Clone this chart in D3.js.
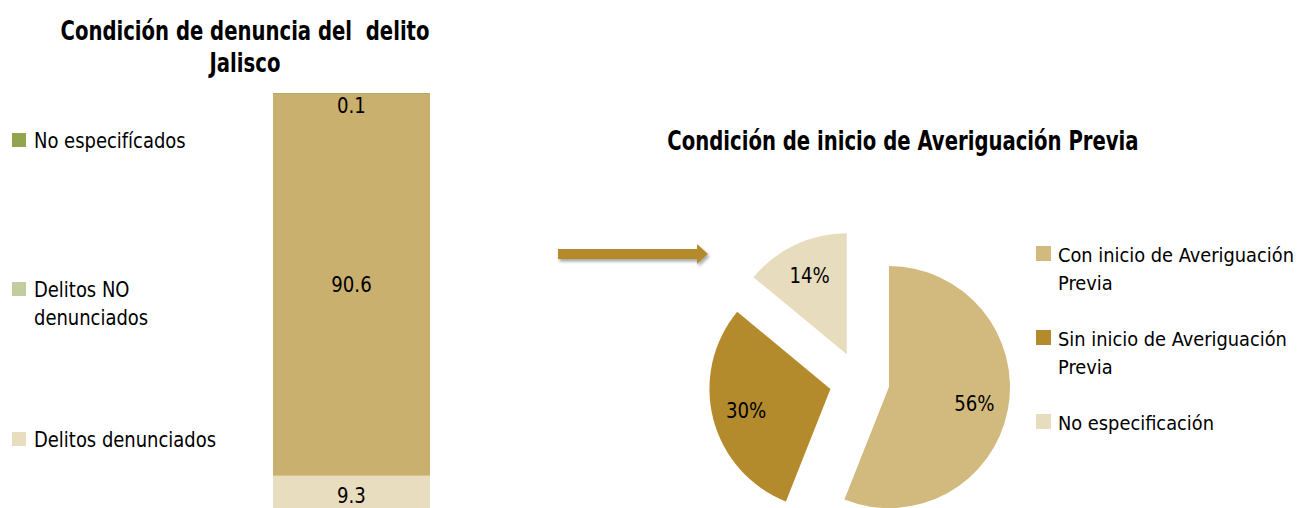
<!DOCTYPE html>
<html>
  <head>
    <meta charset="utf-8">
    <script type="text/javascript" src="https://d3js.org/d3.v7.min.js"></script>
    <style>
      body { margin:0; background:#fff; }
      text { font-family:"Liberation Sans Narrow","DejaVu Sans Condensed","Open Sans",sans-serif; fill:#000; }
    </style>
  </head>
  <body>
  </body>
  <script>

// barra apilada: denuncia del delito (Jalisco)
var barCats   = ["Delitos denunciados", "Delitos NO denunciados", "No especifícados"];
var barVals   = [9.3, 90.6, 0.1];
var barFill   = ["#e8ddbf", "#c9b06e", "#9aa553"];
var barLegCol = ["#e8ddbf", "#c2cd9f", "#93a44f"];

// pastel: inicio de averiguacion previa
var pieCats = ["Con inicio de Averiguación Previa", "Sin inicio de Averiguación Previa", "No especificación"];
var pieVals = [56, 30, 14];
var pieCol  = ["#d2b97e", "#b38b2c", "#e8dcbf"];

var W=1305, H=508;
var svg = d3.select("body").append("svg").attr("width", W).attr("height", H);

// la fuente original es condensada: se aprieta el texto a lo ancho
function squeeze(sel, k){
  sel.each(function(){
    var n=this.getComputedTextLength();
    d3.select(this).attr("textLength", n*k).attr("lengthAdjust","spacingAndGlyphs");
  });
}

// ---- titulos
var titles = [
  {t:"Condición de denuncia del  delito", x:245, y:40},
  {t:"Jalisco", x:245, y:72},
  {t:"Condición de inicio de Averiguación Previa", x:903, y:150}
];
svg.selectAll("text.tit").data(titles).enter().append("text").attr("class","tit")
   .attr("x",function(d){ return d.x; }).attr("y",function(d){ return d.y; })
   .attr("text-anchor","middle").style("font-size","26px").style("font-weight","bold")
   .style("white-space","pre").text(function(d){ return d.t; })
   .call(squeeze, 0.84);

// ---- barra
var y = d3.scaleLinear().domain([0,100]).range([515, 93]);
var stack = [], acc=0;
barVals.forEach(function(v,i){ stack.push({v:v, y0:acc, y1:acc+v, c:barFill[i]}); acc+=v; });

var bx=273, bw=157;
svg.selectAll("rect.seg").data(stack).enter().append("rect").attr("class","seg")
   .attr("x",bx).attr("width",bw)
   .attr("y",function(d){ return y(d.y1); })
   .attr("height",function(d){ return Math.max(y(d.y0)-y(d.y1), 0.8); })
   .style("fill",function(d){ return d.c; });

svg.selectAll("text.blab").data(stack).enter().append("text").attr("class","blab")
   .attr("x",bx+bw/2)
   .attr("y",function(d){ var m=(y(d.y0)+y(d.y1))/2; return Math.max(m, y(d.y1)+13); })
   .attr("dy","0.35em").attr("text-anchor","middle").style("font-size","21px")
   .text(function(d){ return d.v; })
   .call(squeeze, 0.96);

// leyenda izquierda
var legL = [
  {lines:["No especifícados"], yb:148, c:barLegCol[2]},
  {lines:["Delitos NO","denunciados"], yb:297, c:barLegCol[1]},
  {lines:["Delitos denunciados"], yb:447, c:barLegCol[0]}
];
legL.forEach(function(d){
  svg.append("rect").attr("x",12).attr("y",d.yb-15).attr("width",14).attr("height",14).style("fill",d.c);
  d.lines.forEach(function(t,k){
    svg.append("text").attr("x",34).attr("y",d.yb+k*28).style("font-size","21px").text(t).call(squeeze, 0.95);
  });
});

// ---- flecha
var defs = svg.append("defs");
var f = defs.append("filter").attr("id","sh").attr("x","-10%").attr("y","-50%").attr("width","130%").attr("height","250%");
f.append("feDropShadow").attr("dx",1.5).attr("dy",2.5).attr("stdDeviation",1.8).attr("flood-color","#000").attr("flood-opacity",0.35);
svg.append("path").attr("d","M558,249 L697,249 L697,244 L708,254 L697,264 L697,259 L558,259 Z")
   .style("fill","#b38b2c").attr("filter","url(#sh)");

// ---- pastel
var cx=859.5, cy=381.5, R=121, boom=30;
var pie = d3.pie().sort(null).value(function(d){ return d; });
var arcs = pie(pieVals);
var arc = d3.arc().innerRadius(0).outerRadius(R);
var larc = d3.arc().innerRadius(87*2-R).outerRadius(R);

var g = svg.append("g").attr("transform","translate("+cx+","+cy+")");
var sl = g.selectAll("g.sl").data(arcs).enter().append("g").attr("class","sl")
   .attr("transform",function(d){
     var m=(d.startAngle+d.endAngle)/2;
     return "translate("+(boom*Math.sin(m))+","+(-boom*Math.cos(m))+")";
   });
sl.append("path").attr("d",arc).style("fill",function(d,i){ return pieCol[i]; });
sl.append("text").attr("transform",function(d){ return "translate("+larc.centroid(d)+")"; })
   .attr("dy","0.35em").attr("text-anchor","middle").style("font-size","21px")
   .text(function(d){ return d.data+"%"; })
   .call(squeeze, 0.96);

// leyenda derecha
var legR = [
  {lines:["Con inicio de Averiguación","Previa"], yb:262, c:pieCol[0]},
  {lines:["Sin inicio de Averiguación","Previa"], yb:346, c:pieCol[1]},
  {lines:["No especificación"], yb:430, c:pieCol[2]}
];
legR.forEach(function(d){
  svg.append("rect").attr("x",1036).attr("y",d.yb-16).attr("width",15).attr("height",15).style("fill",d.c);
  d.lines.forEach(function(t,k){
    svg.append("text").attr("x",1058).attr("y",d.yb+k*28).style("font-size","20px").text(t).call(squeeze, 0.99);
  });
});

  </script>
</html>
